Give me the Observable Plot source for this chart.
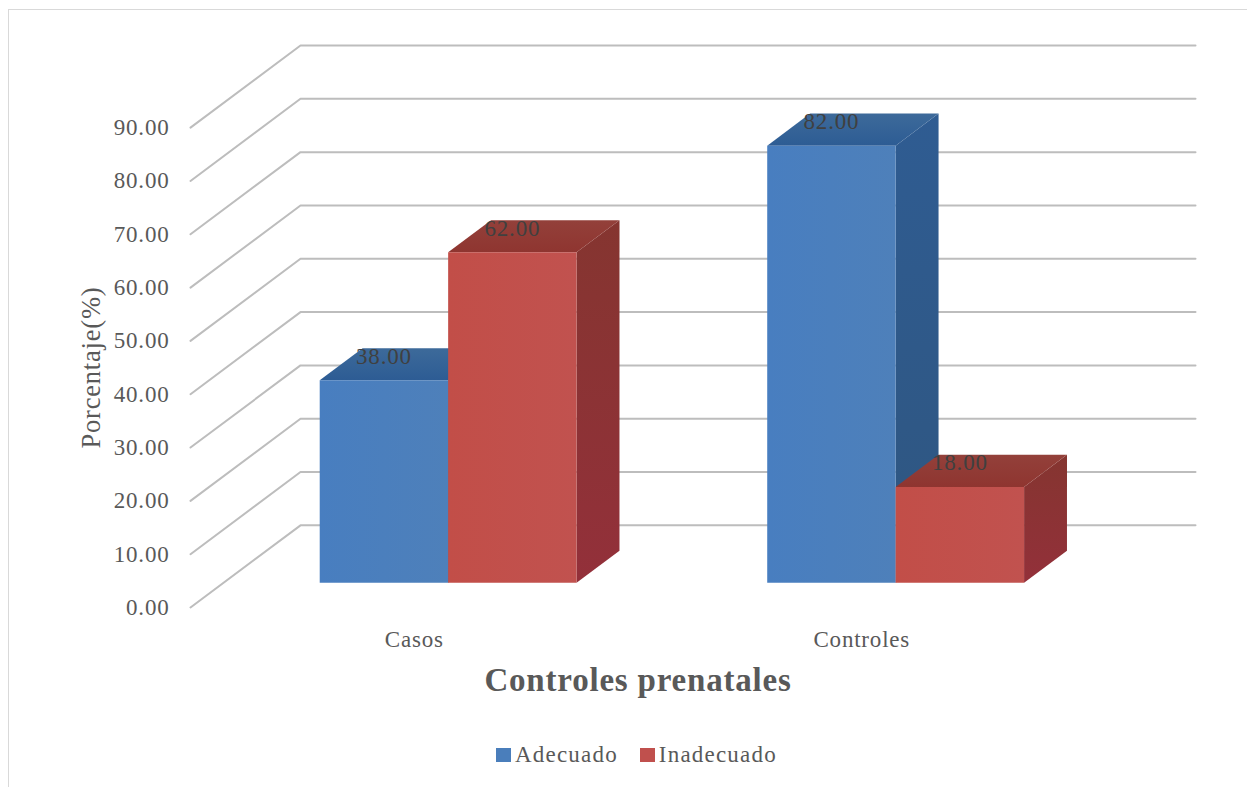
<!DOCTYPE html>
<html lang="es">
<head>
<meta charset="utf-8">
<script src="https://cdn.jsdelivr.net/npm/d3@7"></script>
<script src="https://cdn.jsdelivr.net/npm/@observablehq/plot@0.6"></script>
<style>
  html, body { margin: 0; padding: 0; background: #fff; }
  #chart {
    position: relative; box-sizing: border-box; width: 1239px; height: 778px;
    margin: 9px 0 0 8px; border-left: 1px solid #d9d9d9; border-top: 1px solid #d9d9d9;
    overflow: hidden;
  }
  #chart svg { position: absolute; left: -9px; top: -10px; max-width: none; }
  #legend {
    position: absolute; left: 487px; top: 732px; display: flex; align-items: center;
    font: 23px "Liberation Serif", serif; letter-spacing: 1.2px; color: #595959;
  }
  #legend i { display: inline-block; width: 15px; height: 14px; margin-right: 4px; }
  #legend span { display: inline-flex; align-items: center; margin-right: 22px; }
</style>
</head>
<body>
<div id="chart"><div id="legend"></div></div>
<script>
// Survey results: share of each prenatal-care rating per study group.
const categories = ["Casos", "Controles"];
const seriesNames = ["Adecuado", "Inadecuado"];
const adecuado = [38, 82];
const inadecuado = [62, 18];
const yTicks = [0, 10, 20, 30, 40, 50, 60, 70, 80, 90];

// Face shading per series: [start, end] of a soft gradient
const frontColors = ["#4a7ebb", "#c0504d"];
const frontShade = [["#487ec0", "#4e80ba"], ["#c24e48", "#c1524f"]];
const sideShade = [["#2f5c92", "#2f5680"], ["#853530", "#93303a"]];
const topShade = [["#3d6a9a", "#2d5c94"], ["#93403a", "#8f3530"]];

// Oblique projection: a point at depth d (0 front wall, 1 back wall) slides
// right and upward in data units, so every mark still goes through the scales.
const depthX = 0.2458;
const depthY = 15.41;
const barFront = 0.3;
const barBack = 0.69;
const gap = 0.215;
const barWidth = 0.287;
const project = (x, v, d) => ({x: x + d * depthX, y: v + d * depthY});

const polygon = (points, fill) =>
  Plot.line(points, {x: "x", y: "y", fill, stroke: "none", curve: "linear-closed"});

// Gradient definitions referenced by the box faces
function gradientDefs() {
  const svgNS = "http://www.w3.org/2000/svg";
  const defs = document.createElementNS(svgNS, "defs");
  const add = (id, [a, b], vertical) => {
    const g = document.createElementNS(svgNS, "linearGradient");
    g.setAttribute("id", id);
    g.setAttribute("x2", vertical ? "0" : "1");
    g.setAttribute("y2", vertical ? "1" : "0");
    [a, b].forEach((color, i) => {
      const stop = document.createElementNS(svgNS, "stop");
      stop.setAttribute("offset", i);
      stop.setAttribute("stop-color", color);
      g.append(stop);
    });
    defs.append(g);
  };
  seriesNames.forEach((_, s) => {
    add(`front${s}`, frontShade[s], false);
    add(`side${s}`, sideShade[s], true);
    add(`top${s}`, topShade[s], true);
  });
  return defs;
}

// Floor-to-wall guide for each tick: diagonal on the side wall, then along the back.
const gridMarks = yTicks.map((t) =>
  Plot.line([project(0, t, 0), project(0, t, 1), project(2, t, 1)],
    {x: "x", y: "y", stroke: "#bdbdbd", strokeWidth: 2})
);

// One box: right side and top behind the front face.
function box(catIndex, seriesIndex, value) {
  const x0 = catIndex + gap + seriesIndex * barWidth;
  const x1 = x0 + barWidth;
  const f = (x, v) => project(x, v, barFront);
  const b = (x, v) => project(x, v, barBack);
  return [
    polygon([f(x1, 0), b(x1, 0), b(x1, value), f(x1, value)], `url(#side${seriesIndex})`),
    polygon([f(x0, value), f(x1, value), b(x1, value), b(x0, value)], `url(#top${seriesIndex})`),
    polygon([f(x0, 0), f(x1, 0), f(x1, value), f(x0, value)], `url(#front${seriesIndex})`)
  ];
}

const series = [adecuado, inadecuado];
const boxMarks = categories.flatMap((_, c) =>
  series.flatMap((values, s) => box(c, s, values[c]))
);

const labelRows = categories.flatMap((_, c) =>
  series.map((values, s) => ({
    ...project(c + gap + (s + 0.5) * barWidth, values[c], barFront),
    value: values[c]
  }))
);

const font = {fontFamily: "Liberation Serif", fontSize: 23, fill: "#595959"};

const plot = Plot.plot({
  width: 1247,
  height: 720,
  marginLeft: 190,
  marginRight: 52,
  marginTop: 45,
  marginBottom: 113,
  x: {domain: [0, 2 + depthX], axis: null},
  y: {domain: [0, 90 + depthY], axis: null},
  style: {background: "transparent", letterSpacing: "0.8px"},
  marks: [
    gradientDefs,
    ...gridMarks,
    ...boxMarks,
    Plot.text(labelRows, {
      x: "x", y: "y", text: (d) => d.value.toFixed(2), dy: -24,
      fontFamily: font.fontFamily, fontSize: font.fontSize, fill: "#404040"
    }),
    // Value axis labels, sitting left of the front ends of the guides
    Plot.text(yTicks, {
      x: 0, y: (d) => d, text: (d) => d.toFixed(2), textAnchor: "end", dx: -21, ...font
    }),
    // Category labels along the floor edge
    Plot.text(categories, {
      x: (_, i) => i + 0.5, y: 0, text: (d) => d, dy: 32, ...font
    }),
    Plot.text(["Controles prenatales"], {
      x: 1, y: 0, text: (d) => d, dy: 73,
      fontFamily: font.fontFamily, fontSize: 33, fontWeight: "bold", fill: "#595959"
    }),
    Plot.text(["Porcentaje(%)"], {
      x: 0, y: 45, text: (d) => d, rotate: -90, dx: -99,
      fontFamily: font.fontFamily, fontSize: 26.5, fill: "#595959"
    })
  ]
});

const chart = document.getElementById("chart");
chart.insertBefore(plot, chart.firstChild);

// Series key below the plot
const legend = document.getElementById("legend");
seriesNames.forEach((name, i) => {
  const item = document.createElement("span");
  const swatch = document.createElement("i");
  swatch.style.background = frontColors[i];
  item.append(swatch, name);
  legend.append(item);
});
</script>
</body>
</html>
